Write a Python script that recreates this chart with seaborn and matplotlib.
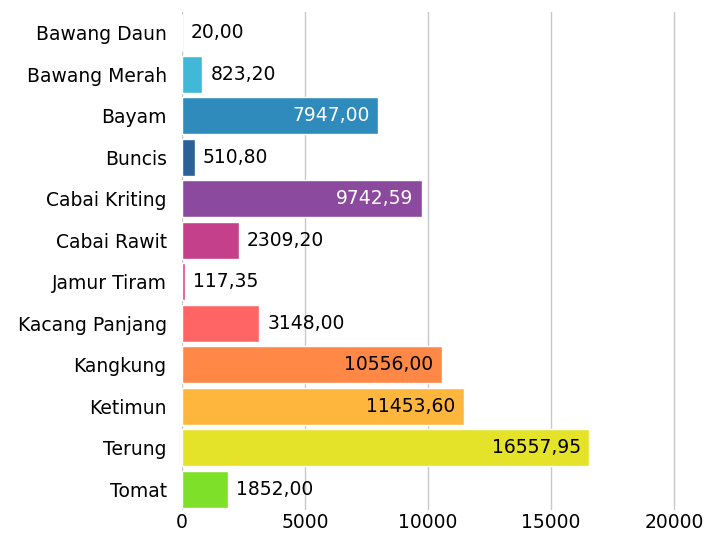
import matplotlib
matplotlib.use("Agg")
import matplotlib.pyplot as plt
import seaborn as sns
import pandas as pd

categories = ["Bawang Daun", "Bawang Merah", "Bayam", "Buncis", "Cabai Kriting",
              "Cabai Rawit", "Jamur Tiram", "Kacang Panjang", "Kangkung",
              "Ketimun", "Terung", "Tomat"]
values = [20.00, 823.20, 7947.00, 510.80, 9742.59, 2309.20, 117.35, 3148.00,
          10556.00, 11453.60, 16557.95, 1852.00]
labels = ["20,00", "823,20", "7947,00", "510,80", "9742,59", "2309,20", "117,35",
          "3148,00", "10556,00", "11453,60", "16557,95", "1852,00"]
colors = ["#3fc0c8", "#41b8d5", "#2e8bbb", "#2d5f99", "#8b4a9e", "#c5408a",
          "#e8457a", "#ff6565", "#ff8847", "#ffb63d", "#e5e22a", "#7fe02a"]
inside = [False, False, True, False, True, False, False, False, True, True, True, False]
label_color = ["black", "black", "white", "black", "white", "black", "black",
               "black", "black", "black", "black", "black"]
xticks = [0, 5000, 10000, 15000, 20000]

sns.set_theme(style="white")
plt.rcParams["font.family"] = ["DejaVu Sans"]

df = pd.DataFrame({"cat": categories, "val": values})
fig = plt.figure(figsize=(7.11, 5.35), dpi=100)
ax = fig.add_axes([182/711, 25/535, (676.5-182)/711, (510-12)/535])

sns.barplot(data=df, x="val", y="cat", hue="cat", palette=colors, legend=False,
            width=0.9, ax=ax, orient="h", zorder=3, saturation=1)
ax.set_xlim(0, 20100)
ax.set_ylim(11.5, -0.5)
ax.set_xticks(xticks)
ax.set_xticklabels([str(t) for t in xticks], fontsize=13.5, color="black")
ax.tick_params(axis="y", labelsize=13.5, pad=11, length=0, labelcolor="black")
ax.tick_params(axis="x", pad=2, length=0, labelcolor="black")
ax.set_xlabel("")
ax.set_ylabel("")
for s in ax.spines.values():
    s.set_visible(False)
ax.grid(axis="x", color="#c8c8c8", linewidth=1, zorder=0)

off = 330
for i, (v, lab) in enumerate(zip(values, labels)):
    if inside[i]:
        ax.text(v - off, i, lab, ha="right", va="center", fontsize=13.5,
                color=label_color[i], zorder=5)
    else:
        ax.text(v + off, i, lab, ha="left", va="center", fontsize=13.5,
                color=label_color[i], zorder=5)

fig.savefig("out.png", dpi=100)
